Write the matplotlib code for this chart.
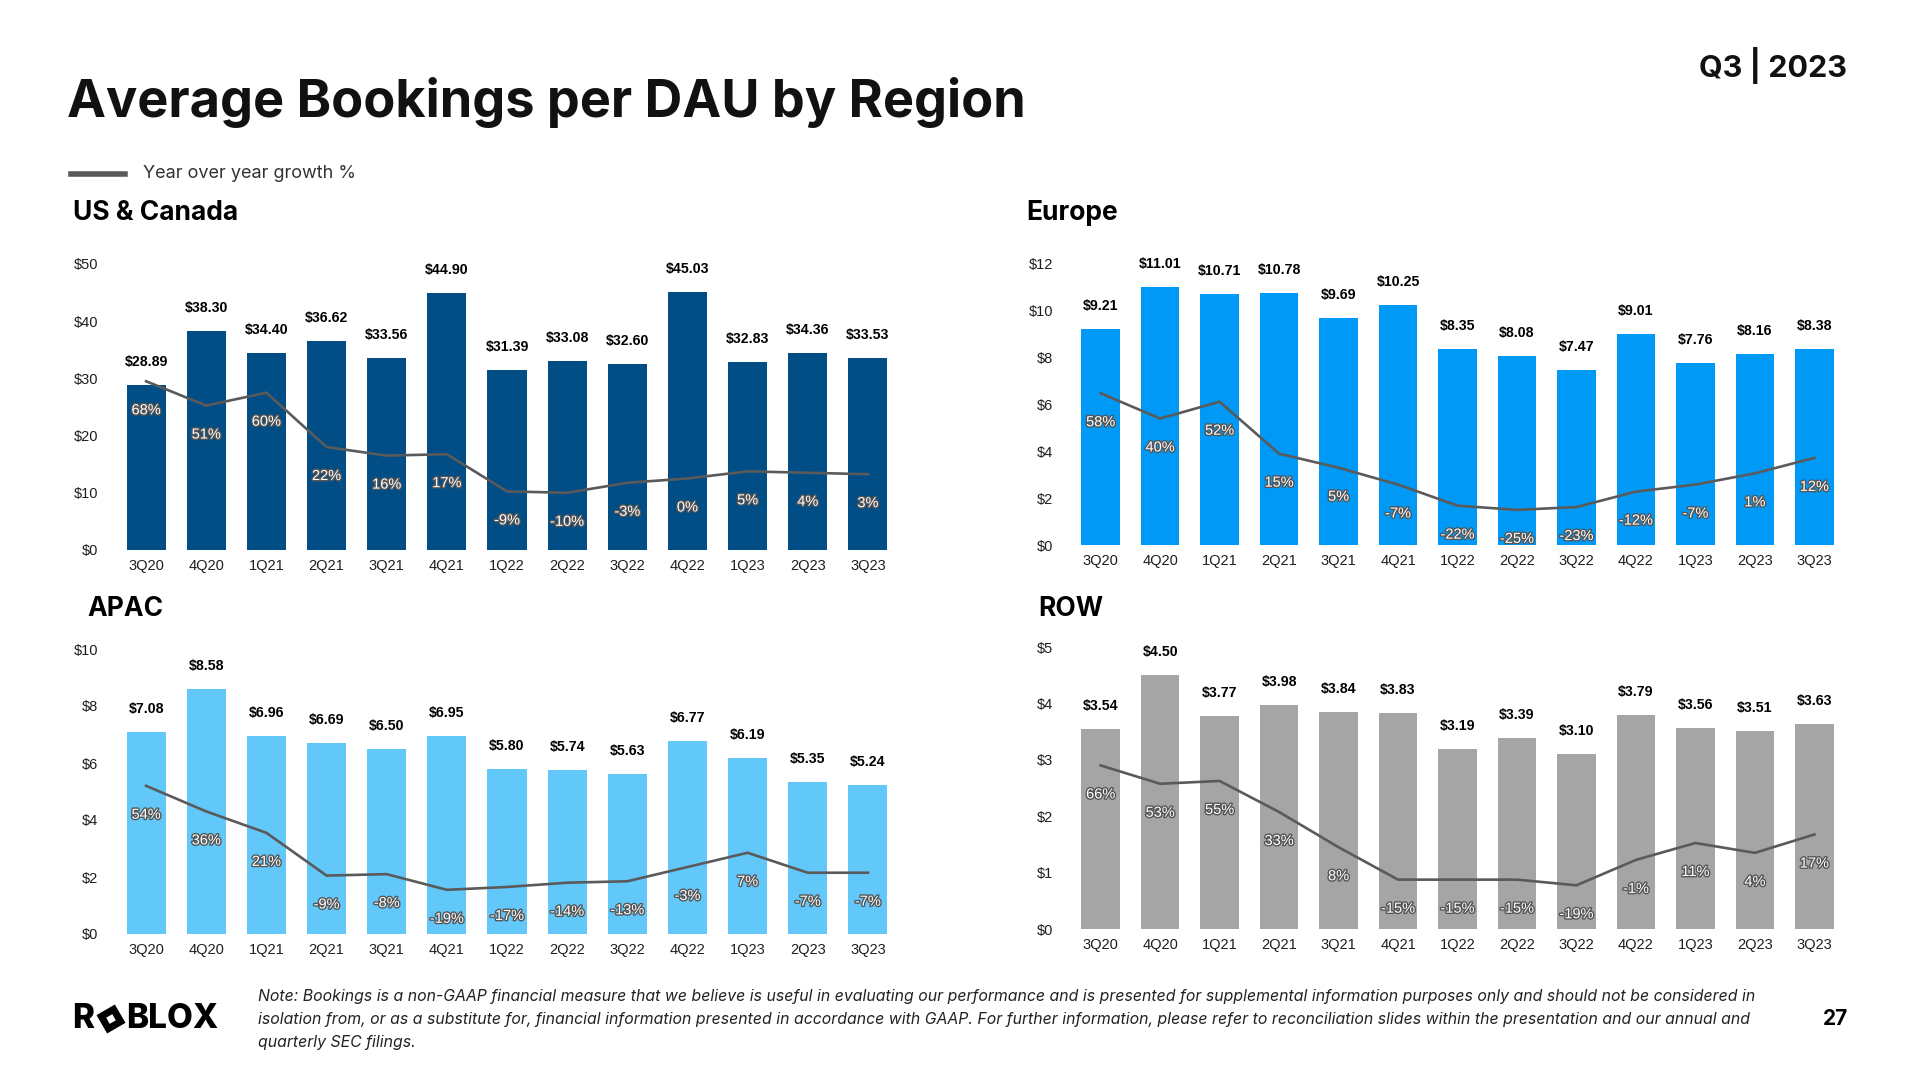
import matplotlib
matplotlib.use("Agg")
import matplotlib.pyplot as plt
import matplotlib.patheffects as pe
from matplotlib.patches import Polygon
import numpy as np

quarters = ["3Q20", "4Q20", "1Q21", "2Q21", "3Q21", "4Q21", "1Q22",
            "2Q22", "3Q22", "4Q22", "1Q23", "2Q23", "3Q23"]

# average bookings per DAU ($) and year over year growth (%)
us_values = [28.89, 38.30, 34.40, 36.62, 33.56, 44.90, 31.39, 33.08, 32.60, 45.03, 32.83, 34.36, 33.53]
us_growth = [68, 51, 60, 22, 16, 17, -9, -10, -3, 0, 5, 4, 3]

eu_values = [9.21, 11.01, 10.71, 10.78, 9.69, 10.25, 8.35, 8.08, 7.47, 9.01, 7.76, 8.16, 8.38]
eu_growth = [58, 40, 52, 15, 5, -7, -22, -25, -23, -12, -7, 1, 12]

apac_values = [7.08, 8.58, 6.96, 6.69, 6.50, 6.95, 5.80, 5.74, 5.63, 6.77, 6.19, 5.35, 5.24]
apac_growth = [54, 36, 21, -9, -8, -19, -17, -14, -13, -3, 7, -7, -7]

row_values = [3.54, 4.50, 3.77, 3.98, 3.84, 3.83, 3.19, 3.39, 3.10, 3.79, 3.56, 3.51, 3.63]
row_growth = [66, 53, 55, 33, 8, -15, -15, -15, -19, -1, 11, 4, 17]

W, H = 1920, 1080
LINE_COLOR = "#5a5a5a"
TICK_COLOR = "#1e1e1e"
NUM_FONT = ["Liberation Sans", "DejaVu Sans"]
HEAD_FONT = ["Inter", "DejaVu Sans"]

fig = plt.figure(figsize=(W / 100, H / 100), dpi=100)
fig.patch.set_facecolor("white")


def ft(x, y, s, **kw):
    # place text using pixel coords measured from top-left
    return fig.text(x / W, 1 - y / H, s, **kw)


def region_panel(box, values, growth, ymax, ystep, color):
    left, top, right, bottom = box
    ax = fig.add_axes([left / W, 1 - bottom / H, (right - left) / W, (bottom - top) / H])
    x = np.arange(len(quarters))
    ax.bar(x, values, width=0.65, color=color, zorder=2)
    ax.set_xlim(-0.65, len(quarters) - 0.35)
    ax.set_ylim(0, ymax)
    yt = np.arange(0, ymax + ystep / 2, ystep)
    ax.set_yticks(yt)
    ax.set_yticklabels([f"${v:g}" for v in yt], family=NUM_FONT)
    ax.set_xticks(x)
    ax.set_xticklabels(quarters, family=NUM_FONT)
    ax.tick_params(length=0, labelsize=10.5, pad=6.5, colors=TICK_COLOR)
    for s in ax.spines.values():
        s.set_visible(False)
    for xi, v in zip(x, values):
        ax.annotate(f"${v:.2f}", (xi, v), xytext=(0, 23), textcoords="offset pixels",
                    ha="center", va="center", fontsize=10.2, fontweight="bold",
                    family=NUM_FONT, color="black")

    ax2 = ax.twinx()
    ax2.set_ylim(-50, 150)
    ax2.axis("off")
    ax2.plot(x, growth, color=LINE_COLOR, lw=1.9, zorder=3)
    for xi, g in zip(x, growth):
        ax2.annotate(f"{g}%", (xi, g), xytext=(0, -29), textcoords="offset pixels",
                     ha="center", va="center", fontsize=10.5, color="white",
                     family=NUM_FONT,
                     path_effects=[pe.withStroke(linewidth=2.0, foreground="#555555")])
    return ax


region_panel((107, 264, 907, 550), us_values, us_growth, 50, 10, "#004e85")
region_panel((1062, 264, 1853, 545), eu_values, eu_growth, 12, 2, "#0099f6")
region_panel((107, 649, 907, 934), apac_values, apac_growth, 10, 2, "#62c8fa")
region_panel((1062, 647, 1853, 929), row_values, row_growth, 5, 1, "#a5a5a5")

# headings
ft(67, 102, "Average Bookings per DAU by Region", fontsize=37.6, fontweight="bold",
   family=HEAD_FONT, va="center", color="#111111")
ft(1847, 65, "Q3 | 2023", fontsize=22, fontweight="bold", family=HEAD_FONT,
   va="center", ha="right", color="#111111")

# legend
fig.add_artist(plt.Line2D([71 / W, 125 / W], [1 - 174 / H] * 2, color=LINE_COLOR,
                          lw=4, transform=fig.transFigure))
ft(143, 174, "Year over year growth %", fontsize=13, family=HEAD_FONT, va="center",
   color="#333333")

ft(73, 213, "US & Canada", fontsize=19, fontweight="bold", family=HEAD_FONT, va="center")
ft(1026, 213, "Europe", fontsize=19, fontweight="bold", family=HEAD_FONT, va="center")
ft(87, 609, "APAC", fontsize=19, fontweight="bold", family=HEAD_FONT, va="center")
ft(1038, 609, "ROW", fontsize=19, fontweight="bold", family=HEAD_FONT, va="center")

# footer: logo, note, page number
ft(72, 1019, "R", fontsize=24, fontweight="heavy", family=HEAD_FONT, va="center")
cx, cy, r = 111, 1019, 15
ang = np.deg2rad(15)
outer = [(cx + r * np.cos(ang + k * np.pi / 2), cy + r * np.sin(ang + k * np.pi / 2)) for k in range(4)]
inner = [(cx + 5 * np.cos(ang + k * np.pi / 2), cy + 5 * np.sin(ang + k * np.pi / 2)) for k in range(4)]
for pts, col in ((outer, "black"), (inner, "white")):
    fig.add_artist(Polygon([(px / W, 1 - py / H) for px, py in pts], closed=True,
                           facecolor=col, edgecolor="none", transform=fig.transFigure))
ft(126, 1019, "BLOX", fontsize=24, fontweight="heavy", family=HEAD_FONT, va="center")

note = ("Note: Bookings is a non-GAAP financial measure that we believe is useful in evaluating our performance and is presented for supplemental information purposes only and should not be considered in\n"
        "isolation from, or as a substitute for, financial information presented in accordance with GAAP. For further information, please refer to reconciliation slides within the presentation and our annual and\n"
        "quarterly SEC filings.")
ft(258, 1019.5, note, fontsize=11.4, style="italic", family=HEAD_FONT, va="center",
   linespacing=1.65, color="#222222")
ft(1848, 1019, "27", fontsize=15, fontweight="bold", family=HEAD_FONT, va="center",
   ha="right")

fig.savefig("out.png", dpi=100, facecolor="white")
